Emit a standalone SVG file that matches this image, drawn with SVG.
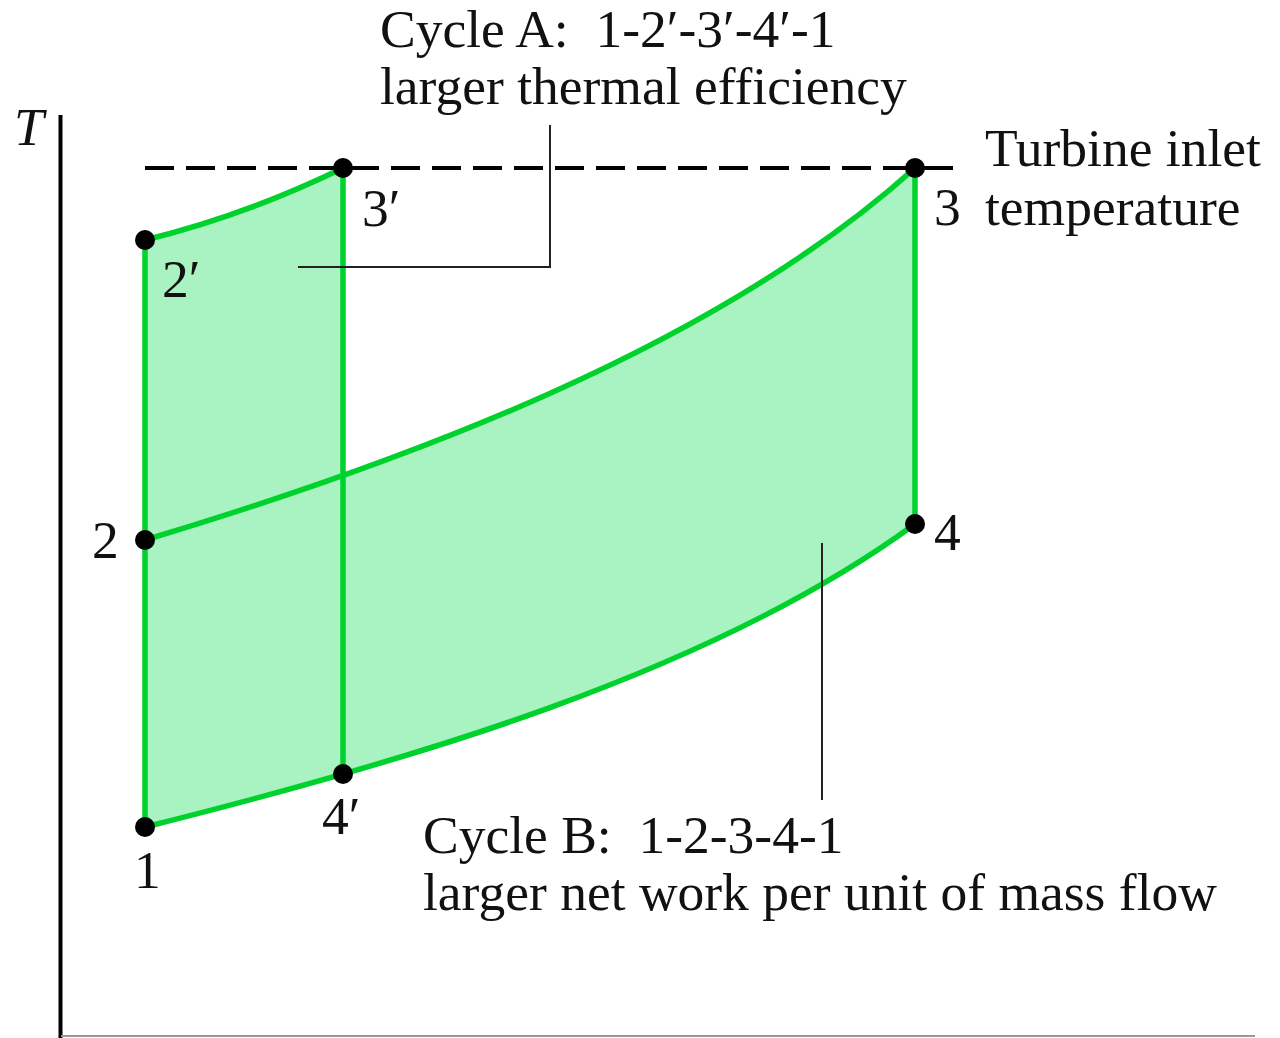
<svg xmlns="http://www.w3.org/2000/svg" width="1280" height="1038" viewBox="0 0 1280 1038">
<style>
text{font-family:"Liberation Serif","Times New Roman",serif;font-size:53.5px;fill:#111;white-space:pre}
.area{fill:#a8f3c1;stroke:none}
.cyc{fill:none;stroke:#00d22d;stroke-width:5.5;stroke-linejoin:round}
.dot{fill:#000}
.lead{fill:none;stroke:#222;stroke-width:2}
</style>
<rect width="1280" height="1038" fill="#fff"/>
<g id="fills">
<path class="area" d="M145,827 L145,240 Q244,216 343,168 L343,774 C405,762 710,674 915,524 L915,168 C715,348 405,462 145,540 Z"/>
<path class="area" d="M145,540 C405,462 715,348 915,168 L915,524 C710,674 405,762 145,827 Z"/>
</g>
<g id="axes">
<line x1="60.5" y1="115" x2="60.5" y2="1038" stroke="#000" stroke-width="4"/>
<line x1="61" y1="1036" x2="1255" y2="1036" stroke="#999" stroke-width="2"/>
<text x="14" y="145" font-style="italic" font-size="50">T</text>
</g>
<g id="connectors">
<line x1="145" y1="168" x2="958" y2="168" stroke="#000" stroke-width="4" stroke-dasharray="29 12"/>
<path class="cyc" d="M145,827 L145,240 Q244,216 343,168"/>
<path class="cyc" d="M343,168 L343,774"/>
<path class="cyc" d="M145,540 C405,462 715,348 915,168 L915,524"/>
<path class="cyc" d="M145,827 C405,762 710,674 915,524"/>
<path class="lead" d="M298,267 H550 V125"/>
<path class="lead" d="M822,543 V800"/>
</g>
<g id="node-1"><circle class="dot" cx="145" cy="827" r="10"/><text x="134" y="888">1</text></g>
<g id="node-2"><circle class="dot" cx="145" cy="540" r="10"/><text x="92" y="558">2</text></g>
<g id="node-2p"><circle class="dot" cx="145" cy="240" r="10"/><text x="162" y="297">2′</text></g>
<g id="node-3p"><circle class="dot" cx="343" cy="168" r="10"/><text x="362" y="226">3′</text></g>
<g id="node-3"><circle class="dot" cx="915" cy="168" r="10"/><text x="934" y="225">3</text></g>
<g id="node-4"><circle class="dot" cx="915" cy="524" r="10"/><text x="934" y="550">4</text></g>
<g id="node-4p"><circle class="dot" cx="343" cy="774" r="10"/><text x="322" y="834">4′</text></g>
<g id="label-cycle-a"><text x="380" y="47" xml:space="preserve">Cycle A:  1-2′-3′-4′-1</text><text x="380" y="104">larger thermal efficiency</text></g>
<g id="label-tit"><text x="985" y="166">Turbine inlet</text><text x="985" y="225">temperature</text></g>
<g id="label-cycle-b"><text x="423" y="853" xml:space="preserve">Cycle B:  1-2-3-4-1</text><text x="423" y="910">larger net work per unit of mass flow</text></g>
</svg>
